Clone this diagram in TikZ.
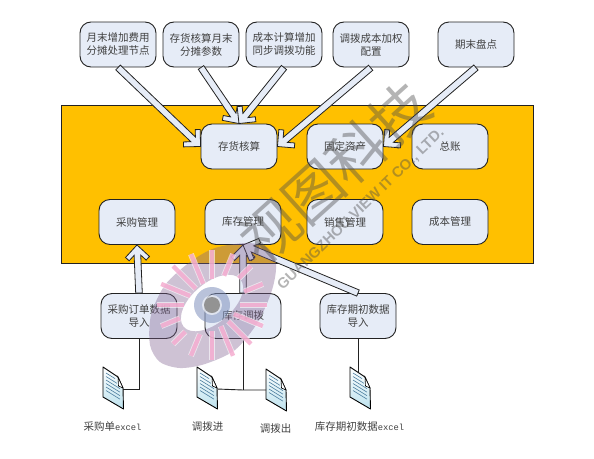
\documentclass[tikz,border=0pt]{standalone}
\usepackage{fontspec}
\setmainfont{Noto Sans CJK SC}
\newfontfamily\latinmono{Liberation Mono}
\newfontfamily\wmlatin{Liberation Sans}
\usetikzlibrary{calc}
\definecolor{boxfill}{HTML}{E6ECF7}
\definecolor{orangebg}{HTML}{FFC000}
\definecolor{inkdark}{HTML}{222222}
\definecolor{txt}{HTML}{404040}
\definecolor{swoosh}{HTML}{7D5F8E}
\definecolor{raypink}{HTML}{F39CC6}
\definecolor{docblue}{HTML}{BDE2EE}
\definecolor{docline}{HTML}{4C7D9E}
\definecolor{eyeblue}{HTML}{7F90BC}
\tikzset{
  boxnode/.style={draw=inkdark,fill=boxfill,line width=.9pt,rounded corners=11pt,
    minimum width=76pt,minimum height=45pt,inner sep=0pt,align=center,
    text=txt,font=\fontsize{10.5}{13}\selectfont},
  lab/.style={inner sep=0pt,text=txt,font=\fontsize{10.5}{13}\selectfont},
  wire/.style={draw=inkdark,line width=.9pt},
  blockbody/.style={draw=inkdark,fill=boxfill,line width=.8pt,line join=miter},
  wmtext/.style={inner sep=0pt,text=black!70,text opacity=.42}
}
\newcommand\blockarrow[2]{%
  \path let \p1=(#1),\p2=(#2),
    \n1={atan2(\y1-\y2,\x1-\x2)},\n2={veclen(\x1-\x2,\y1-\y2)} in
    \pgfextra{\xdef\arang{\n1}\xdef\arlen{\n2}};
  \draw[blockbody,shift={(#2)},rotate=\arang]
    (0pt,0pt) -- (12pt,12pt) -- (15.5pt,8.5pt) -- (10.3pt,3.3pt) -- (\arlen,3.3pt)
    -- (\arlen,-3.3pt) -- (10.3pt,-3.3pt) -- (15.5pt,-8.5pt) -- (12pt,-12pt) -- cycle;}
\newcommand\docshape[3]{%
  \begin{scope}[shift={(#2,#3)}]
    \draw[draw=black,line width=.9pt,line join=round,top color=white,bottom color=docblue]
      (0,0) -- (15,10) -- (20,21) -- (20.5,42) -- (0,30) -- cycle;
    \draw[draw=black,line width=.6pt,fill=white] (15,10) -- (20,21) -- (15.5,19) -- cycle;
    \foreach \yy/\xe in {6/12,9.5/14,13/17,16.5/17,20/17,23.5/17}
      \draw[docline,line width=.6pt] (3,\yy) -- (\xe,{\yy+(\xe-3)*.62});
    \coordinate (#1-n) at (8,5);
    \coordinate (#1-e) at (20,22);
    \coordinate (#1-w) at (0,21);
  \end{scope}}
\begin{document}
\begin{tikzpicture}[x=1pt,y=-1pt]
\useasboundingbox (0,0) rectangle (594,458);
\node[draw=inkdark,fill=orangebg,line width=.8pt,minimum width=472pt,minimum height=158pt,inner sep=0pt] (panel) at (297,184) {};

% top row
\node[boxnode] (t1) at (118,44.5) {月末增加费用\\分摊处理节点};
\node[boxnode] (t2) at (201,44.5) {存货核算月末\\分摊参数};
\node[boxnode] (t3) at (284,44.5) {成本计算增加\\同步调拨功能};
\node[boxnode] (t4) at (371,44.5) {调拨成本加权\\配置};
\node[boxnode] (t5) at (476,44.5) {期末盘点};
% second row
\node[boxnode] (inv) at (239,146.5) {存货核算};
\node[boxnode] (fa) at (345,146.5) {固定资产};
\node[boxnode] (gl) at (450,146.5) {总账};
% third row
\node[boxnode] (pur) at (137,222) {采购管理};
\node[boxnode] (sto) at (243,222) {库存管理};
\node[boxnode] (sal) at (345,222) {销售管理};
\node[boxnode] (cos) at (450,222) {成本管理};
% fourth row
\node[boxnode] (imp1) at (139,316) {采购订单数据\\导入};
\node[boxnode] (imp2) at (243,316) {库存调拨};
\node[boxnode] (imp3) at (358,316) {库存期初数据\\导入};

% block arrows
\blockarrow{t1.south}{inv.west}
\blockarrow{t2.south}{inv.north}
\blockarrow{t3.south}{inv.north}
\blockarrow{t4.south}{inv.east}
\blockarrow{t5.south}{fa.east}
\blockarrow{imp1.north}{pur.south}
\blockarrow{imp2.north}{sto.south}
\blockarrow{imp3.north}{sto.south}

% documents
\docshape{d1}{103}{367}
\docshape{d2}{197}{367}
\docshape{d3}{266}{369}
\docshape{d4}{350}{367}

% connectors
\draw[wire] (imp1.south) |- (d1-e);
\coordinate (junc) at (imp2.south |- d3-w);
\draw[wire] (imp2.south) -- (junc);
\draw[wire] (d2-e) -- (junc) -- (d3-w);
\draw[wire] (imp3.south) -- (imp3.south |- d4-n);

% labels
\node[lab] (l1) at (112.5,427) {采购单{\latinmono\fontsize{8.8}{13}\selectfont excel}};
\node[lab] (l2) at (207.5,427) {调拨进};
\node[lab] (l3) at (275.5,429) {调拨出};
\node[lab] (l4) at (359.5,427) {库存期初数据{\latinmono\fontsize{8.8}{13}\selectfont excel}};

% watermark
\fill[swoosh,fill opacity=.38,even odd rule]
  plot[smooth cycle] coordinates {(247,243) (215,248) (190,262) (165,285) (151,315) (150,345)
    (160,362) (180,368) (205,364) (235,350) (258,322) (272,290) (276,265) (268,248)}
  (212,303) ellipse [x radius=37pt,y radius=20pt,rotate=40];
\begin{scope}[shift={(212,305)}]
  \foreach \a in {0,22.5,...,337.5}{
    \pgfmathsetmacro\ri{max(23,720/veclen(20*cos(\a-40),36*sin(\a-40))+2)}
    \draw[white,opacity=.6,line width=6pt] (\a:\ri pt) -- (\a:55pt);
    \draw[raypink,opacity=.7,line width=4.4pt] (\a:\ri pt) -- (\a:55pt);
  }
  \fill[eyeblue,fill opacity=.55] (0,0) circle (18pt);
  \fill[white,fill opacity=.6] (0,0) circle (10pt);
  \fill[gray!85] (0,0) circle (8pt);
\end{scope}
\node[wmtext,rotate=42,font=\fontsize{58}{58}\selectfont] (wm1) at (335,172) {视图科技};
\node[wmtext,rotate=44,font={\wmlatin\bfseries\fontsize{14.7}{15}\selectfont}] (wm2) at (361,209) {GUANGZHOU VIEW IT CO., LTD.};
\end{tikzpicture}
\end{document}
